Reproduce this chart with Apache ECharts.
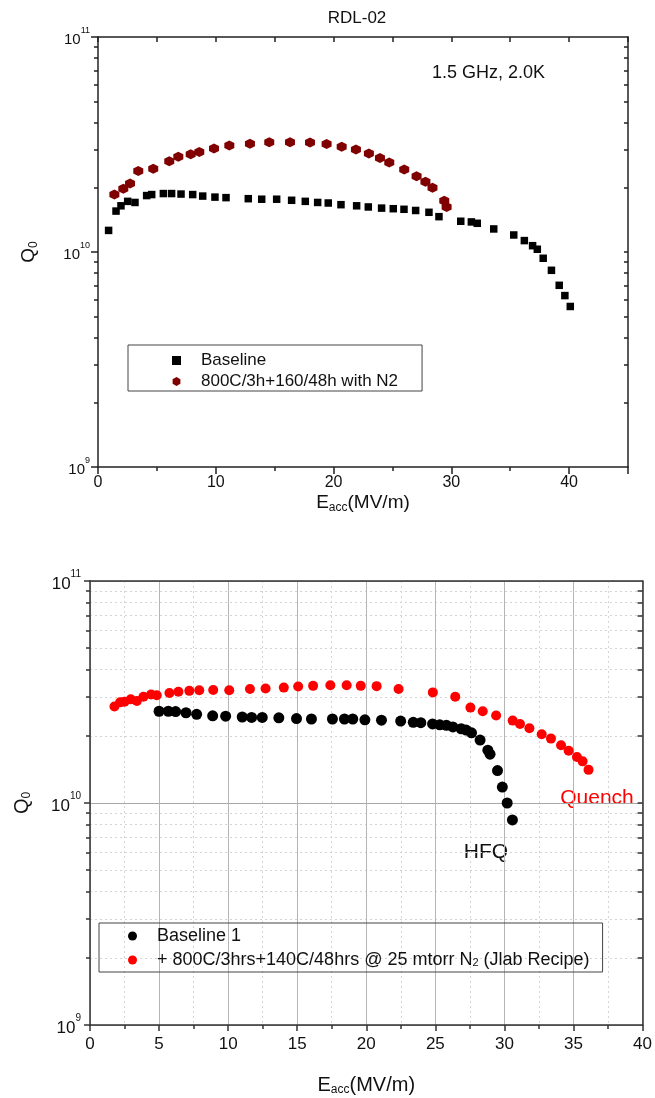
<!DOCTYPE html>
<html>
<head>
<meta charset="utf-8">
<script src="https://cdn.jsdelivr.net/npm/echarts@6/dist/echarts.min.js"></script>
<style>
  html, body { margin: 0; padding: 0; background: #fff; }
  #chart { width: 655px; height: 1098px; }
</style>
</head>
<body>
<div id="chart"></div>
<script>
// ---- RDL-02 cavity, 1.5 GHz at 2.0 K ----
const rdlBaselineName = 'Baseline';
const rdlBaselineE = [0.9, 1.53, 1.95, 2.52, 3.14, 4.13, 4.56, 5.55, 6.25, 7.05, 8.04, 8.89, 9.93, 10.87, 12.76, 13.9, 15.17, 16.44, 17.6, 18.65, 19.55, 20.63, 21.96, 22.95, 24.08, 25.07, 25.98, 26.97, 28.1, 28.95, 30.8, 31.7, 32.2, 33.6, 35.3, 36.2, 36.9, 37.3, 37.8, 38.5, 39.16, 39.64, 40.1];
const rdlBaselineQ = [1.26e10, 1.55e10, 1.64e10, 1.72e10, 1.70e10, 1.83e10, 1.85e10, 1.87e10, 1.87e10, 1.86e10, 1.85e10, 1.82e10, 1.80e10, 1.79e10, 1.77e10, 1.76e10, 1.76e10, 1.74e10, 1.72e10, 1.70e10, 1.69e10, 1.66e10, 1.64e10, 1.62e10, 1.60e10, 1.59e10, 1.58e10, 1.56e10, 1.53e10, 1.46e10, 1.39e10, 1.38e10, 1.36e10, 1.28e10, 1.20e10, 1.13e10, 1.07e10, 1.03e10, 9.35e9, 8.22e9, 7.0e9, 6.27e9, 5.58e9];

const rdlNitrogenName = '800C/3h+160/48h with N2';
const rdlNitrogenE = [1.39, 2.15, 2.72, 3.42, 4.69, 6.05, 6.82, 7.87, 8.6, 9.85, 11.15, 12.9, 14.54, 16.3, 18.0, 19.41, 20.69, 21.9, 23.0, 23.94, 24.73, 26.0, 27.05, 27.8, 28.4, 29.4, 29.6];
const rdlNitrogenQ = [1.85e10, 1.97e10, 2.08e10, 2.38e10, 2.44e10, 2.64e10, 2.77e10, 2.85e10, 2.92e10, 3.03e10, 3.13e10, 3.19e10, 3.24e10, 3.24e10, 3.23e10, 3.18e10, 3.09e10, 3.00e10, 2.87e10, 2.74e10, 2.61e10, 2.42e10, 2.25e10, 2.12e10, 1.99e10, 1.73e10, 1.62e10];

// ---- second cavity: baseline vs. JLab nitrogen-doping recipe ----
const jlabBaselineName = 'Baseline 1';
const jlabBaselineE = [5.0, 5.67, 6.2, 6.95, 7.72, 8.88, 9.82, 11.02, 11.7, 12.47, 13.67, 14.95, 16.03, 17.55, 18.42, 19.02, 19.9, 21.1, 22.49, 23.4, 23.95, 24.8, 25.32, 25.8, 26.27, 26.87, 27.23, 27.62, 28.24, 28.8, 28.96, 29.5, 29.85, 30.2, 30.58];
const jlabBaselineQ = [2.59e10, 2.59e10, 2.58e10, 2.55e10, 2.51e10, 2.47e10, 2.46e10, 2.44e10, 2.43e10, 2.43e10, 2.42e10, 2.40e10, 2.39e10, 2.39e10, 2.39e10, 2.39e10, 2.37e10, 2.36e10, 2.34e10, 2.31e10, 2.30e10, 2.27e10, 2.25e10, 2.24e10, 2.20e10, 2.16e10, 2.13e10, 2.07e10, 1.92e10, 1.73e10, 1.66e10, 1.40e10, 1.18e10, 1.00e10, 8.39e9];

const jlabRecipeName = '+ 800C/3hrs+140C/48hrs @ 25 mtorr N2 (Jlab Recipe)';
const jlabRecipeE = [1.77, 2.18, 2.5, 2.95, 3.39, 3.87, 4.42, 4.83, 5.75, 6.4, 7.19, 7.91, 8.92, 10.08, 11.58, 12.71, 14.03, 15.07, 16.15, 17.4, 18.58, 19.6, 20.75, 22.34, 24.82, 26.44, 27.54, 28.43, 29.4, 30.6, 31.13, 31.81, 32.7, 33.37, 34.1, 34.65, 35.25, 35.66, 36.09];
const jlabRecipeQ = [2.72e10, 2.84e10, 2.86e10, 2.93e10, 2.88e10, 3.01e10, 3.08e10, 3.06e10, 3.13e10, 3.17e10, 3.20e10, 3.22e10, 3.23e10, 3.22e10, 3.26e10, 3.28e10, 3.31e10, 3.35e10, 3.37e10, 3.39e10, 3.39e10, 3.37e10, 3.36e10, 3.26e10, 3.15e10, 3.01e10, 2.69e10, 2.59e10, 2.48e10, 2.35e10, 2.27e10, 2.17e10, 2.04e10, 1.95e10, 1.82e10, 1.72e10, 1.61e10, 1.54e10, 1.41e10];

// ---- axis ticks ----
const qMin = 1e9;
const qMax = 1e11;
const qMinorTicks = [2e9, 3e9, 4e9, 5e9, 6e9, 7e9, 8e9, 9e9, 2e10, 3e10, 4e10, 5e10, 6e10, 7e10, 8e10, 9e10];
const qRightTicks = [2e9, 3e9, 4e9, 5e9, 6e9, 7e9, 8e9, 9e9, 1e10, 2e10, 3e10, 4e10, 5e10, 6e10, 7e10, 8e10, 9e10];
const topEMax = 45;
const topEStep = 10;
const topEMinorStep = 5;
const bottomEMax = 40;
const bottomEStep = 5;

// ---- text ----
const topTitle = 'RDL-02';
const topNote = '1.5 GHz, 2.0K';
const hfqNote = 'HFQ';
const quenchNote = 'Quench';

const FONT = '"Liberation Sans", Arial, sans-serif';
const HEXAGON = 'path://M0,-10 L8.66,-5 L8.66,5 L0,10 L-8.66,5 L-8.66,-5 Z';

const pairs = (xs, ys) => xs.map((x, i) => [x, ys[i]]);
const decadeLabel = v => '{b|10}{sup|' + Math.round(Math.log10(v)) + '}';

function decadeRich(base, sup) {
  return {
    b: { fontSize: base, lineHeight: base + 6, verticalAlign: 'bottom', color: '#111', fontFamily: FONT },
    sup: { fontSize: sup, lineHeight: 4, verticalAlign: 'top', color: '#111', fontFamily: FONT }
  };
}
function subRich(sub) {
  return {
    sub: { fontSize: sub, lineHeight: 4, verticalAlign: 'bottom', color: '#111', fontFamily: FONT }
  };
}

const topLine = { color: '#222', width: 1.5 };
const botLine = { color: '#333', width: 1.5 };

const chart = echarts.init(document.getElementById('chart'));

chart.setOption({
  animation: false,
  backgroundColor: '#fff',
  grid: [
    { left: 98, top: 37, width: 530, height: 430 },
    { left: 90, top: 581, width: 553.5, height: 444 }
  ],
  xAxis: [
    // top chart: labelled axis
    {
      gridIndex: 0, type: 'value', min: 0, max: topEMax, interval: topEStep, position: 'bottom',
      axisLine: { show: true, onZero: false, lineStyle: topLine },
      axisTick: { show: true, length: 7, lineStyle: topLine },
      axisLabel: { margin: 8, fontSize: 16, color: '#111', fontFamily: FONT,
        formatter: v => (v % topEStep === 0 ? String(v) : '') },
      splitLine: { show: false },
      name: 'E{sub|acc}(MV/m)', nameLocation: 'middle', nameGap: 18,
      nameTextStyle: { fontSize: 19, lineHeight: 22, color: '#111', fontFamily: FONT, rich: subRich(12) }
    },
    // top chart: minor ticks
    {
      gridIndex: 0, type: 'value', min: 0, max: topEMax, interval: topEMinorStep, position: 'bottom',
      axisLine: { show: false, onZero: false },
      axisTick: { show: true, length: 4, lineStyle: topLine },
      axisLabel: { show: false }, splitLine: { show: false }
    },
    // top chart: upper frame
    {
      gridIndex: 0, type: 'value', min: 0, max: topEMax, interval: topEMinorStep, position: 'top',
      axisLine: { show: true, onZero: false, lineStyle: topLine },
      axisTick: { show: true, inside: true, length: 5, lineStyle: topLine },
      axisLabel: { show: false }, splitLine: { show: false }
    },
    // bottom chart: labelled axis with grid
    {
      gridIndex: 1, type: 'value', min: 0, max: bottomEMax, interval: bottomEStep, position: 'bottom',
      axisLine: { show: true, onZero: false, lineStyle: botLine },
      axisTick: { show: true, length: 6, lineStyle: botLine },
      minorTick: { show: true, splitNumber: 2, length: 4, lineStyle: botLine },
      axisLabel: { margin: 11, fontSize: 17, color: '#111', fontFamily: FONT },
      splitLine: { show: true, lineStyle: { color: '#b5b5b5', width: 1 } },
      minorSplitLine: { show: true, lineStyle: { color: '#d4d4d4', width: 1, type: [2, 3] } },
      name: 'E{sub|acc}(MV/m)', nameLocation: 'middle', nameGap: 49,
      nameTextStyle: { fontSize: 20, lineHeight: 22, color: '#111', fontFamily: FONT, rich: subRich(12) }
    },
    // bottom chart: upper frame
    {
      gridIndex: 1, type: 'value', min: 0, max: bottomEMax, interval: bottomEStep, position: 'top',
      axisLine: { show: true, onZero: false, lineStyle: botLine },
      axisTick: { show: false }, axisLabel: { show: false }, splitLine: { show: false }
    }
  ],
  yAxis: [
    // top chart: decades
    {
      gridIndex: 0, type: 'log', logBase: 10, min: qMin, max: qMax, splitNumber: 2, position: 'left',
      axisLine: { show: true, onZero: false, lineStyle: topLine },
      axisTick: { show: true, length: 7, lineStyle: topLine },
      axisLabel: { margin: 8, formatter: decadeLabel, rich: decadeRich(15, 9) },
      splitLine: { show: false },
      name: 'Q{sub|0}', nameLocation: 'middle', nameGap: 58, nameRotate: 90,
      nameTextStyle: { fontSize: 19, lineHeight: 22, color: '#111', fontFamily: FONT, rich: subRich(12) }
    },
    // top chart: minor ticks
    {
      gridIndex: 0, type: 'log', logBase: 10, min: qMin, max: qMax, position: 'left',
      axisLine: { show: false, onZero: false },
      axisTick: { show: true, length: 4, customValues: qMinorTicks, lineStyle: topLine },
      axisLabel: { show: false }, splitLine: { show: false }
    },
    // top chart: right frame
    {
      gridIndex: 0, type: 'log', logBase: 10, min: qMin, max: qMax, position: 'right',
      axisLine: { show: true, onZero: false, lineStyle: topLine },
      axisTick: { show: true, inside: true, length: 4, customValues: qRightTicks, lineStyle: topLine },
      axisLabel: { show: false }, splitLine: { show: false }
    },
    // bottom chart: decades with solid grid
    {
      gridIndex: 1, type: 'log', logBase: 10, min: qMin, max: qMax, splitNumber: 2, position: 'left',
      axisLine: { show: true, onZero: false, lineStyle: botLine },
      axisTick: { show: true, length: 6, lineStyle: botLine },
      axisLabel: { margin: 9, formatter: decadeLabel, rich: decadeRich(17, 10) },
      splitLine: { show: true, lineStyle: { color: '#a8a8a8', width: 1 } },
      name: 'Q{sub|0}', nameLocation: 'middle', nameGap: 57, nameRotate: 90,
      nameTextStyle: { fontSize: 20, lineHeight: 22, color: '#111', fontFamily: FONT, rich: subRich(12) }
    },
    // bottom chart: minor ticks with dotted grid
    {
      gridIndex: 1, type: 'log', logBase: 10, min: qMin, max: qMax, position: 'left',
      axisLine: { show: false, onZero: false },
      axisTick: { show: true, length: 4, customValues: qMinorTicks, lineStyle: botLine },
      axisLabel: { show: false },
      splitLine: { show: true, lineStyle: { color: '#d4d4d4', width: 1, type: [2, 3] } }
    },
    // bottom chart: right frame
    {
      gridIndex: 1, type: 'log', logBase: 10, min: qMin, max: qMax, position: 'right',
      axisLine: { show: true, onZero: false, lineStyle: botLine },
      axisTick: { show: true, inside: true, length: 5, customValues: qRightTicks, lineStyle: botLine },
      axisLabel: { show: false }, splitLine: { show: false }
    }
  ],
  legend: [
    {
      data: [rdlBaselineName, rdlNitrogenName],
      orient: 'vertical', left: 128, top: 345,
      itemWidth: 9, itemHeight: 9, itemGap: 4,
      padding: [7, 24, 1, 44],
      borderColor: '#444', borderWidth: 1, selectedMode: false,
      textStyle: { fontSize: 17, lineHeight: 16, color: '#111', fontFamily: FONT, padding: [0, 0, 0, 15] }
    },
    {
      data: [jlabBaselineName, jlabRecipeName],
      orient: 'vertical', left: 99, top: 923,
      itemWidth: 9, itemHeight: 9, itemGap: 6,
      padding: [4, 13, 3, 29],
      borderColor: '#444', borderWidth: 1, selectedMode: false,
      formatter: name => name.replace('N2 ', 'N{sub|2} '),
      textStyle: { fontSize: 18, lineHeight: 16, color: '#111', fontFamily: FONT, padding: [0, 0, 0, 15],
        rich: { sub: { fontSize: 11, lineHeight: 4, verticalAlign: 'bottom', color: '#111', fontFamily: FONT } } }
    }
  ],
  graphic: [
    { type: 'text', x: 357, y: 18, style: { text: topTitle, fill: '#111', font: '17px ' + FONT, align: 'center', verticalAlign: 'middle' } },
    { type: 'text', x: 432, y: 73, style: { text: topNote, fill: '#111', font: '18px ' + FONT, align: 'left', verticalAlign: 'middle' } },
    { type: 'text', x: 486, y: 852, style: { text: hfqNote, fill: '#111', font: '21px ' + FONT, align: 'center', verticalAlign: 'middle' } },
    { type: 'text', x: 597, y: 798, style: { text: quenchNote, fill: '#ff0000', font: '21px ' + FONT, align: 'center', verticalAlign: 'middle' } }
  ],
  series: [
    { name: rdlBaselineName, type: 'scatter', xAxisIndex: 0, yAxisIndex: 0,
      symbol: 'rect', symbolSize: 7.5, itemStyle: { color: '#000', opacity: 1 },
      data: pairs(rdlBaselineE, rdlBaselineQ) },
    { name: rdlNitrogenName, type: 'scatter', xAxisIndex: 0, yAxisIndex: 0,
      symbol: HEXAGON, symbolSize: 10, itemStyle: { color: '#800000', opacity: 1 },
      data: pairs(rdlNitrogenE, rdlNitrogenQ) },
    { name: jlabBaselineName, type: 'scatter', xAxisIndex: 3, yAxisIndex: 3,
      symbol: 'circle', symbolSize: 11, itemStyle: { color: '#000', opacity: 1 },
      data: pairs(jlabBaselineE, jlabBaselineQ) },
    { name: jlabRecipeName, type: 'scatter', xAxisIndex: 3, yAxisIndex: 3,
      symbol: 'circle', symbolSize: 10, itemStyle: { color: '#ff0000', opacity: 1 },
      data: pairs(jlabRecipeE, jlabRecipeQ) }
  ]
});
</script>
</body>
</html>
